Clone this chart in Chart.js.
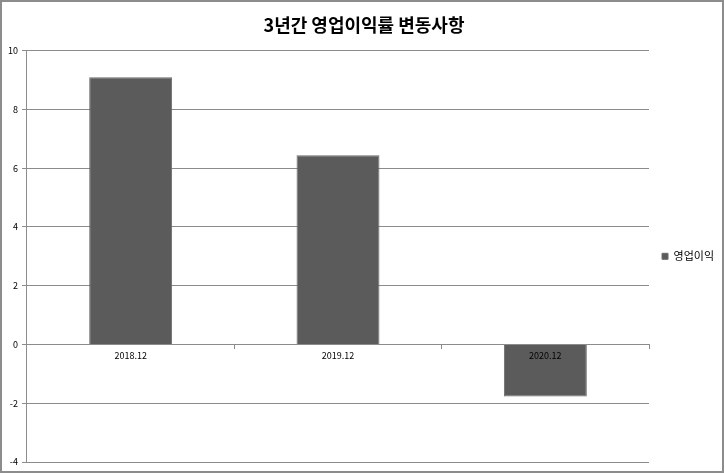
<!DOCTYPE html>
<html>
<head>
<meta charset="utf-8">
<script src="https://cdn.jsdelivr.net/npm/chart.js@4/dist/chart.umd.min.js"></script>
<style>
  html, body { margin: 0; padding: 0; background: #fff; }
  #wrap { width: 724px; height: 473px; position: relative; }
</style>
</head>
<body>
<div id="wrap"><canvas id="chart"></canvas></div>
<script>
// 영업이익률 (%) by year-end
const categories = ['2018.12', '2019.12', '2020.12'];
const seriesName = '영업이익';
const opMargin = [9.09, 6.44, -1.77];
const yTicks = [-4, -2, 0, 2, 4, 6, 8, 10];

const FONT = '"Noto Sans CJK KR", "Noto Sans", sans-serif';

// outer frame around the whole chart
const framePlugin = {
  id: 'frame',
  afterDraw(chart) {
    const c = chart.ctx;
    c.save();
    c.strokeStyle = '#8c8c8c';
    c.lineWidth = 2;
    c.strokeRect(1, 1, chart.width - 2, chart.height - 2);
    c.restore();
  }
};

new Chart(document.getElementById('chart'), {
  type: 'bar',
  data: {
    labels: categories,
    datasets: [{
      label: seriesName,
      data: opMargin,
      backgroundColor: '#5b5b5b',
      borderColor: '#6a6a6a',
      borderWidth: 1,
      barPercentage: 0.4,
      categoryPercentage: 1
    }]
  },
  options: {
    responsive: true,
    maintainAspectRatio: false,
    animation: false,
    layout: { padding: { left: 4, right: 0, top: 8, bottom: 11 } },
    scales: {
      x: {
        position: { y: 0 },
        grid: {
          display: true,
          offset: true,
          drawOnChartArea: false,
          drawTicks: true,
          tickLength: 4,
          color: '#8c8c8c'
        },
        border: { color: '#8c8c8c' },
        ticks: {
          z: 1, // labels sit on top of the negative bar
          color: '#000',
          font: { family: FONT, size: 9 },
          padding: 2,
          maxRotation: 0
        }
      },
      y: {
        min: -4,
        max: 10,
        afterBuildTicks: (axis) => { axis.ticks = yTicks.map(v => ({ value: v })); },
        grid: {
          color: '#8c8c8c',
          tickLength: 5
        },
        border: { color: '#8c8c8c' },
        ticks: {
          color: '#000',
          font: { family: FONT, size: 9 },
          padding: 4
        }
      }
    },
    plugins: {
      title: {
        display: true,
        text: '3년간 영업이익률 변동사항',
        color: '#000',
        font: { family: FONT, size: 18, weight: 'bold' },
        padding: { top: 6, bottom: 15 }
      },
      legend: {
        position: 'right',
        fullSize: false,
        labels: {
          color: '#000',
          font: { family: FONT, size: 11 },
          boxWidth: 6,
          boxHeight: 6,
          padding: 13
        }
      },
      tooltip: { enabled: false }
    }
  },
  plugins: [framePlugin]
});
</script>
</body>
</html>
